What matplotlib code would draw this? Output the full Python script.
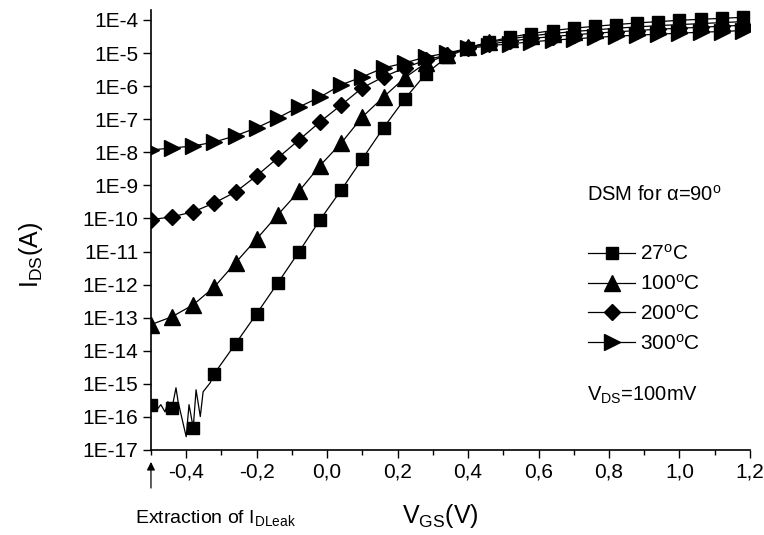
import numpy as np
import matplotlib
matplotlib.use("Agg")
import matplotlib.pyplot as plt
from matplotlib.ticker import FixedLocator, FixedFormatter, NullFormatter

plt.rcParams["font.family"] = ["Liberation Sans", "DejaVu Sans"]
plt.rcParams["mathtext.fontset"] = "custom"
plt.rcParams["mathtext.rm"] = "Liberation Sans"
plt.rcParams["mathtext.it"] = "Liberation Sans:italic"

# gate voltage grid of the markers (V)
vgs = [-0.50, -0.44, -0.38, -0.32, -0.26, -0.20, -0.14, -0.08, -0.02, 0.04,
       0.10, 0.16, 0.22, 0.28, 0.34, 0.40, 0.46, 0.52, 0.58, 0.64,
       0.70, 0.76, 0.82, 0.88, 0.94, 1.00, 1.06, 1.12, 1.18]

# log10(I_DS / A)
log_27 = [-15.63, -15.72, -16.33, -14.69, -13.79, -12.88, -11.95, -11.01, -10.04, -9.14,
          -8.20, -7.26, -6.39, -5.63, -5.12, -4.85, -4.66, -4.52, -4.41, -4.32,
          -4.25, -4.19, -4.14, -4.09, -4.05, -4.01, -3.98, -3.95, -3.92]
log_100 = [-13.21, -12.97, -12.61, -12.07, -11.34, -10.62, -9.89, -9.18, -8.40, -7.72,
           -6.93, -6.33, -5.75, -5.30, -5.06, -4.83, -4.68, -4.57, -4.48, -4.41,
           -4.35, -4.30, -4.25, -4.21, -4.17, -4.14, -4.11, -4.08, -4.05]
log_200 = [-10.04, -9.95, -9.80, -9.53, -9.20, -8.71, -8.17, -7.63, -7.08, -6.57,
           -6.05, -5.72, -5.45, -5.21, -5.06, -4.84, -4.73, -4.64, -4.56, -4.50,
           -4.45, -4.40, -4.36, -4.32, -4.28, -4.25, -4.22, -4.19, -4.16]
log_300 = [-7.93, -7.87, -7.81, -7.69, -7.50, -7.26, -6.96, -6.63, -6.33, -5.96,
           -5.72, -5.45, -5.30, -5.12, -5.00, -4.86, -4.78, -4.72, -4.66, -4.61,
           -4.57, -4.53, -4.49, -4.46, -4.43, -4.40, -4.37, -4.35, -4.32]

# noisy leakage floor of the 27 C curve (line only)
noise_v = [-0.500, -0.483, -0.472, -0.460, -0.452, -0.440, -0.429, -0.423, -0.400,
           -0.392, -0.380, -0.372, -0.360, -0.352, -0.332, -0.320]
noise_log = [-15.63, -15.78, -15.63, -15.85, -15.54, -15.72, -15.12, -15.54, -16.60,
             -15.63, -16.33, -15.18, -15.99, -15.24, -14.97, -14.69]

labels = [r"27$^{\rm o}$C", r"100$^{\rm o}$C", r"200$^{\rm o}$C", r"300$^{\rm o}$C"]
series = [log_27, log_100, log_200, log_300]
markers = ["s", "^", "D", ">"]
msizes = [9, 11, 8, 11]

decades = list(range(-17, -3))
tick_text = ["1E%d" % d for d in decades]

fig = plt.figure(figsize=(7.64, 5.35), dpi=100)
ax = fig.add_axes([0.1976, 0.1589, 0.784, 0.8224])

handles = []
for i, (vals, lab, mk, ms) in enumerate(zip(series, labels, markers, msizes)):
    cur = 10.0 ** np.array(vals)
    if i == 0:
        ax.plot(noise_v, 10.0 ** np.array(noise_log), color="black", lw=0.9)
        ax.plot(vgs[3:], cur[3:], color="black", lw=0.9)
        ax.plot(vgs, cur, ls="none", marker=mk, ms=ms, color="black")
        h, = ax.plot([], [], color="black", lw=0.9, marker=mk, ms=ms)
    else:
        h, = ax.plot(vgs, cur, color="black", lw=0.9, marker=mk, ms=ms)
    handles.append(h)

ax.set_yscale("log")
ax.set_xlim(-0.5, 1.2)
ax.set_ylim(1e-17, 2e-4)

ax.yaxis.set_major_locator(FixedLocator([10.0 ** d for d in decades]))
ax.yaxis.set_major_formatter(FixedFormatter(tick_text))
ax.yaxis.set_minor_formatter(NullFormatter())
ax.set_xticks(np.arange(-0.4, 1.21, 0.2))
ax.set_xticks(np.arange(-0.5, 1.21, 0.1), minor=True)
ax.set_xticklabels([("%.1f" % v).replace(".", ",").replace("-0,0", "0,0")
                    for v in np.arange(-0.4, 1.21, 0.2)])

ax.tick_params(axis="both", which="major", labelsize=15, width=1, length=6,
               direction="out", pad=3)
ax.tick_params(axis="y", which="minor", direction="in", length=2.5, width=0.8)
ax.tick_params(axis="x", which="minor", direction="out", length=3.5, width=1)
ax.spines[["top", "right"]].set_visible(False)
ax.spines[["left", "bottom"]].set_linewidth(1.2)

ax.legend(handles, labels, loc="upper left", bbox_to_anchor=(0.715, 0.487),
          frameon=False, fontsize=15, handlelength=2.3, handletextpad=0.2,
          labelspacing=0.47, borderaxespad=0)

ax.text(0.728, 0.58, "DSM for α=90$^{\\rm o}$", transform=ax.transAxes,
        fontsize=14.5, va="center")
ax.text(0.728, 0.125, r"V$_{\rm DS}$=100mV", transform=ax.transAxes,
        fontsize=14.5, va="center")

fig.text(0.04, 0.523, r"I$_{\rm DS}$(A)", rotation=90, fontsize=18,
         ha="center", va="center")
fig.text(0.576, 0.035, r"V$_{\rm GS}$(V)", fontsize=18, ha="center", va="center")
fig.text(0.177, 0.032, r"Extraction of I$_{\rm DLeak}$", fontsize=14,
         ha="left", va="center")

ax.annotate("", xy=(-0.5, 10 ** -17.36), xytext=(-0.5, 10 ** -18.15),
            arrowprops=dict(arrowstyle="-|>", color="black", lw=0.9,
                            mutation_scale=12, shrinkA=0, shrinkB=0),
            annotation_clip=False)

fig.savefig("out.png", dpi=100)
